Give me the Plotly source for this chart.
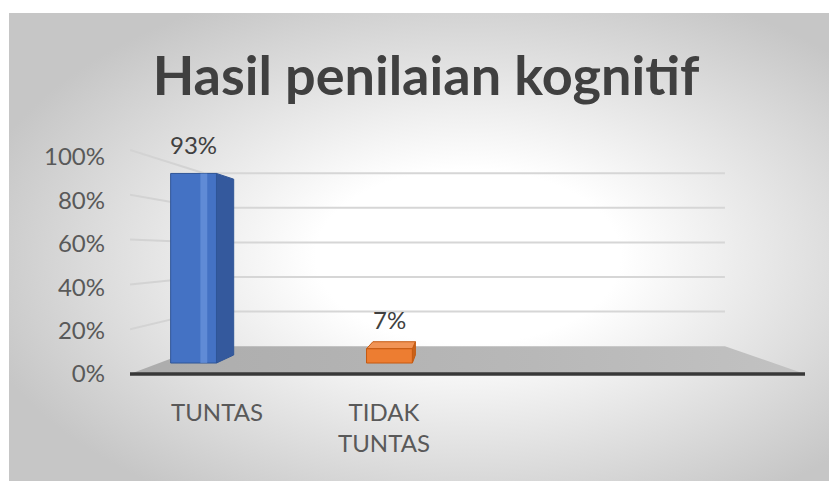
import base64
import plotly.graph_objects as go

# ---------------- data ----------------
categories = ["TUNTAS", "TIDAK<br>TUNTAS"]
values = [93, 7]
value_labels = ["93%", "7%"]
tick_values = [0, 20, 40, 60, 80, 100]
tick_labels = ["0%", "20%", "40%", "60%", "80%", "100%"]
title_text = "Hasil penilaian kognitif"

# ---------------- style / geometry ----------------
W, H = 829, 481
ML, MR, MT, MB = 130, 24, 130, 86
U_MIN, U_MAX = -0.1756, 2.96          # floor extent (category units)
BAR_HALF = 0.117                      # half bar width (category units)
STRIPE = (0.035, 0.07)                # highlight band on front face (relative u)
VP_U, VP_V = 1.329, 54.46             # vanishing point
K_FRONT, K_BAR_F, K_BAR_B, K_BACK = 1.0, 0.91, 0.844, 0.772
GEO_RANGE = [-9.375, 108.93]          # geometry axis
LBL_RANGE = [-9.677, 112.44]          # label axis
LABEL_DX = [49, 1]
FONT = "Lato"
TXT = "#595959"

FACE = [
    dict(front="#4472C4", side="#34599D", top="#5B86D3", edge="#2F5597", hi="rgba(120,160,230,0.55)"),
    dict(front="#ED7D31", side="#C8621B", top="#F19456", edge="#C55A11", hi=None),
]


def proj(u, v, k):
    return VP_U + (u - VP_U) * k, VP_V + (v - VP_V) * k


fig = go.Figure()

# invisible trace so that the label axis exists
fig.add_trace(go.Scatter(x=[U_MIN] * len(tick_values), y=tick_values, mode="markers",
                         marker=dict(opacity=0), hoverinfo="skip", showlegend=False))


def poly(pts, fill, line_color, width=1.0, grad=None):
    xs = [p[0] for p in pts] + [pts[0][0]]
    ys = [p[1] for p in pts] + [pts[0][1]]
    kw = dict(fillcolor=fill)
    if grad is not None:
        kw = dict(fillgradient=grad)
    fig.add_trace(go.Scatter(x=xs, y=ys, mode="lines", fill="toself",
                             line=dict(color=line_color, width=width),
                             yaxis="y2", hoverinfo="skip", showlegend=False, **kw))


def line(pts, color, width):
    fig.add_trace(go.Scatter(x=[p[0] for p in pts], y=[p[1] for p in pts], mode="lines",
                             line=dict(color=color, width=width), yaxis="y2",
                             hoverinfo="skip", showlegend=False))


# floor
floor = [proj(U_MIN, 0, K_FRONT), proj(U_MAX, 0, K_FRONT),
         proj(U_MAX, 0, K_BACK), proj(U_MIN, 0, K_BACK)]
poly(floor, "#b4b4b4", "rgba(0,0,0,0)", 0,
     grad=dict(type="horizontal", colorscale=[[0, "#acacac"], [0.6, "#b8b8b8"], [1, "#c2c2c2"]]))

# gridlines: back wall + left wall
for tv in tick_values[1:]:
    line([proj(U_MIN, tv, K_BACK), proj(U_MAX, tv, K_BACK)], "#d6d6d6", 2)
    line([proj(U_MIN, tv, K_FRONT), proj(U_MIN, tv, K_BACK)], "#d3d3d3", 2)

# floor front edge
line([proj(U_MIN, 0, K_FRONT), proj(U_MAX, 0, K_FRONT)], "#383838", 3.5)

# bars
for i, v in enumerate(values):
    c = FACE[i]
    uL, uR = i - BAR_HALF, i + BAR_HALF
    if uR < VP_U:
        poly([proj(uR, 0, K_BAR_F), proj(uR, 0, K_BAR_B), proj(uR, v, K_BAR_B), proj(uR, v, K_BAR_F)],
             c["side"], c["edge"], 1)
    if uL > VP_U:
        poly([proj(uL, 0, K_BAR_F), proj(uL, 0, K_BAR_B), proj(uL, v, K_BAR_B), proj(uL, v, K_BAR_F)],
             c["side"], c["edge"], 1)
    if v < VP_V:
        poly([proj(uL, v, K_BAR_F), proj(uR, v, K_BAR_F), proj(uR, v, K_BAR_B), proj(uL, v, K_BAR_B)],
             c["top"], c["edge"], 1)
    poly([proj(uL, 0, K_BAR_F), proj(uR, 0, K_BAR_F), proj(uR, v, K_BAR_F), proj(uL, v, K_BAR_F)],
         c["front"], c["edge"], 1)
    if c["hi"]:
        s0, s1 = i + STRIPE[0], i + STRIPE[1]
        poly([proj(s0, 0, K_BAR_F), proj(s1, 0, K_BAR_F), proj(s1, v, K_BAR_F), proj(s0, v, K_BAR_F)],
             c["hi"], "rgba(0,0,0,0)", 0)

annotations = []
for i, (v, lab) in enumerate(zip(values, value_labels)):
    x, y = proj(i, v, K_BAR_F)
    annotations.append(dict(x=x, y=y, xref="x", yref="y2", text=lab, showarrow=False,
                            yanchor="middle", yshift=29,
                            font=dict(family=FONT, size=24, color="#404040")))
for i, cat in enumerate(categories):
    x, y = proj(i, 0, K_FRONT)
    annotations.append(dict(x=x, y=y, xref="x", yref="y2", text=cat, showarrow=False,
                            yanchor="top", xanchor="center", yshift=-21, xshift=LABEL_DX[i],
                            font=dict(family=FONT, size=24, color=TXT)))

# radial gradient background (chart area)
svg = ('<svg xmlns="http://www.w3.org/2000/svg" width="820" height="468" preserveAspectRatio="none">'
       '<defs><radialGradient id="g" cx="0.56" cy="0.52" r="0.62">'
       '<stop offset="0" stop-color="#ffffff"/><stop offset="0.3" stop-color="#ffffff"/>'
       '<stop offset="1" stop-color="#c6c6c6"/></radialGradient></defs>'
       '<rect x="0" y="0" width="820" height="468" fill="url(#g)"/></svg>')
src = "data:image/svg+xml;base64," + base64.b64encode(svg.encode()).decode()
pw, ph = W - ML - MR, H - MT - MB
bx0, by0 = 9, 13
images = [dict(source=src, xref="paper", yref="paper",
               x=(bx0 - ML) / pw, y=(H - MB - by0) / ph,
               sizex=(W - bx0) / pw, sizey=(H - by0) / ph,
               xanchor="left", yanchor="top", sizing="stretch", layer="below")]

fig.update_layout(
    width=W, height=H, margin=dict(l=ML, r=MR, t=MT, b=MB),
    paper_bgcolor="white", plot_bgcolor="rgba(0,0,0,0)",
    title=dict(text="<b>" + title_text + "</b>", xref="container", yref="container",
               x=426 / W, y=1 - 76 / H, xanchor="center", yanchor="middle",
               font=dict(family=FONT, size=54, color="#404040")),
    xaxis=dict(range=[U_MIN, U_MAX], visible=False, fixedrange=True),
    yaxis=dict(range=LBL_RANGE, tickvals=tick_values, ticktext=tick_labels,
               showgrid=False, zeroline=False, showline=False, ticks="",
               ticklabelstandoff=24, tickfont=dict(family=FONT, size=24, color=TXT)),
    yaxis2=dict(range=GEO_RANGE, overlaying="y", visible=False),
    annotations=annotations, images=images, showlegend=False,
)

fig.write_html("out.html")
